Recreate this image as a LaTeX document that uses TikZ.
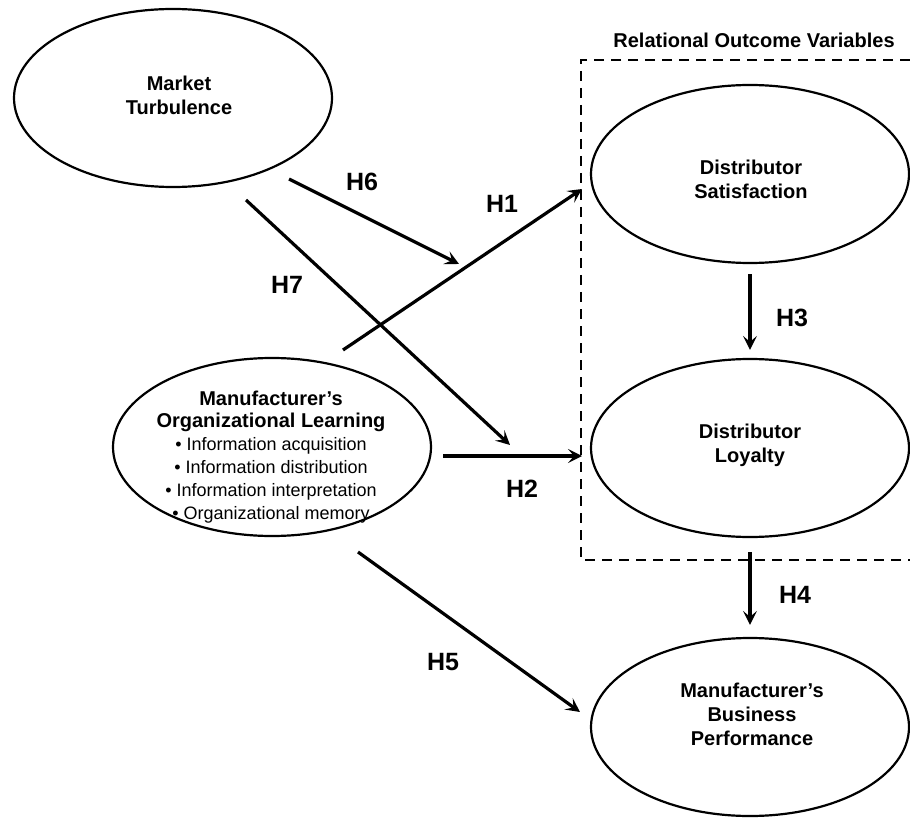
\documentclass[tikz,border=0pt]{standalone}
\usepackage{fontspec}
\setmainfont{Liberation Sans}
\usetikzlibrary{shapes.geometric,arrows.meta}
\begin{document}
\begin{tikzpicture}[x=1pt,y=-1pt,
  oval/.style={draw,ellipse,line width=2.2pt,minimum width=318pt,minimum height=178pt,inner sep=0pt},
  lbl/.style={font=\bfseries\fontsize{20}{24}\selectfont,align=center,inner sep=0pt},
  hyp/.style={font=\bfseries\fontsize{25}{30}\selectfont,inner sep=0pt},
  arr/.style={line width=3.2pt,-{Stealth[length=14pt,width=14pt,inset=6pt]}},
  dashbox/.style={line width=2pt,dash pattern=on 10pt off 7pt},
  ]
\useasboundingbox (0,0) rectangle (910,818);

% ellipses
\node[oval] (mt) at (173,98) {};
\node[oval] (ol) at (272,447) {};
\node[oval] (ds) at (750,174) {};
\node[oval] (dl) at (750,448) {};
\node[oval] (bp) at (750,727) {};

% texts
\node[lbl] (mtt) at (179,95) {Market\\Turbulence};
\node[lbl] (dst) at (751,179) {Distributor\\Satisfaction};
\node[lbl] (dlt) at (750,445) {Distributor\\Loyalty};
\node[lbl] (bpt) at (752,714) {Manufacturer’s\\Business\\Performance};
\node[align=center,inner sep=0pt,font=\fontsize{18}{23}\selectfont] (olt) at (271,457)
  {{\bfseries\fontsize{20}{24}\selectfont Manufacturer’s}\\[-1pt]
   {\bfseries\fontsize{20}{24}\selectfont Organizational Learning}\\
   • Information acquisition\\
   • Information distribution\\
   • Information interpretation\\
   • Organizational memory};
\node[lbl] (rov) at (754,40) {Relational Outcome Variables};

% dashed box
\draw[dashbox] (910,60) -- (581,60) -- (581,560) -- (910,560);

% coordinates
\coordinate (h6s) at (289,179);
\coordinate (h6e) at (459,264);
\coordinate (h7s) at (246,200);
\coordinate (h7e) at (510,445);
\coordinate (h1s) at (343,350);
\coordinate (h1e) at (582,189);
\coordinate (h2s) at (443,456);
\coordinate (h2e) at (582,456);
\coordinate (h5s) at (358,552);
\coordinate (h5e) at (580,712);

% arrows
\draw[arr] (h6s) -- (h6e);
\draw[arr] (h7s) -- (h7e);
\draw[arr] (h1s) -- (h1e);
\draw[arr] (h2s) -- (h2e);
\draw[arr] (h5s) -- (h5e);
\draw[arr,shorten <=10pt,shorten >=8pt] (ds.south) -- (dl.north);
\draw[arr,shorten <=14pt,shorten >=12pt] (dl.south) -- (bp.north);

% hypothesis labels
\node[hyp] (l6) at (362,182) {H6};
\node[hyp] (l1) at (502,204) {H1};
\node[hyp] (l7) at (287,285) {H7};
\node[hyp] (l2) at (522,489) {H2};
\node[hyp] (l3) at (792,318) {H3};
\node[hyp] (l4) at (795,595) {H4};
\node[hyp] (l5) at (443,662) {H5};
\end{tikzpicture}
\end{document}
